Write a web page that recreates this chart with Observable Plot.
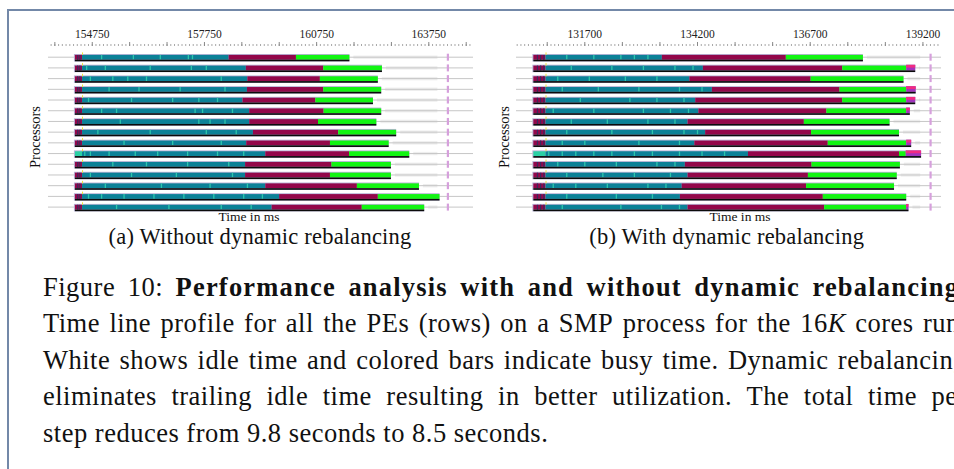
<!DOCTYPE html>
<html><head><meta charset="utf-8">
<script src="https://cdn.jsdelivr.net/npm/d3@7"></script>
<script src="https://cdn.jsdelivr.net/npm/@observablehq/plot@0.6"></script>
<style>
html,body{margin:0;padding:0;background:#fff;}
body{width:954px;height:469px;overflow:hidden;position:relative;font-family:'Liberation Serif','Times New Roman',serif;color:#111;}
#border{position:absolute;left:7px;top:9px;width:1000px;height:500px;border-left:2px solid #7388a8;border-top:2px solid #7388a8;}
.panel{position:absolute;top:0;}
.lbl{position:absolute;white-space:nowrap;line-height:1;}
.cap{position:absolute;left:43px;line-height:1;font-size:26.5px;letter-spacing:0.5px;display:flex;justify-content:space-between;column-gap:4px;white-space:nowrap;}
.cap b{font-weight:bold;letter-spacing:1.2px;}
</style></head><body>
<div id="border"></div>
<div id="pa" class="panel" style="left:0px"></div>
<div id="pb" class="panel" style="left:480px"></div>
<div id="labels"></div>
<div id="caption"></div>
<script>
// ---------- Panel (a): without dynamic rebalancing (times in ms) ----------
const rowsA = [1,2,3,4,5,6,7,8,9,10,11,12,13,14,15];
const startA = 154300;
const prefixEndA = 154490;
const markerA = 164260;
const tealEndA   = [158410,158870,158910,158900,158780,158960,158960,159060,158880,159390,158850,158850,159390,159760,159560];
const maroonEndA = [160210,160940,160850,160940,160730,160950,160800,161340,161120,161630,161160,161120,161840,162400,161970];
const greenEndA  = [161640,162510,162400,162490,162270,162490,162360,162890,162690,163240,162750,162750,163500,164050,163640];
const prefixKindA = ["m","m","m","m","m","m","m","m","m","c","m","m","m","m","m"];
const prefixDarkA = [154360,154420];
const stripesA = [
  [155000,155850,156570,157320,157430],
  [154600,155100,156300,157400,157800],
  [154700,155300,155700,156200,158200],
  [155200,156000,157100,158300],
  [154650,155800,156900,157600,158100],
  [155000,155400,157500,157700,158500],
  [155500,157600,157900,158300],
  [154900,156300,157800,158600],
  [155600,156900,158200],
  [154550,154700,155200,155900,156500,157300,158100,158800],
  [155300,156200,157300,158400],
  [154700,155800,157000,158500],
  [155100,156600,157900,158900],
  [154650,155000,155600,156400,157200,158000,158800,159300],
  [155400,156800,158200,159000]
];
const tickLabelsA = [154750,157750,160750,163750];
const domainA = [153580,164945];

// ---------- Panel (b): with dynamic rebalancing (times in ms) ----------
const rowsB = [1,2,3,4,5,6,7,8,9,10,11,12,13,14,15];
const startB = 130570;
const prefixEndB = 130840;
const markerB = 139370;
const tealEndB   = [133420,134330,134030,134530,134160,134230,133990,134380,134140,135330,133930,133990,133860,133820,133990];
const maroonEndB = [136170,137420,136720,137360,137420,137070,136570,136730,137100,138680,136740,136660,136620,136990,137020];
const greenEndB  = [137880,138840,138780,138840,138840,138840,138470,138680,138840,138830,138700,138630,138570,138840,138840];
const tailEndB   = [null,139040,null,139050,139040,138920,null,null,138950,139170,null,null,null,null,138890];
const prefixKindB = ["m","m","m","m","m","m","m","m","m","c","m","m","m","m","m"];
const prefixDarkB = [130650,130720,130790];
const stripesB = [
  [131300,131900,132500,132800,133100],
  [131400,132300,133000,133700,134100],
  [131100,131800,132600,133300],
  [131200,132000,132900,133800,134300],
  [131600,132700,133300,133900],
  [131000,131900,133000,133600,134000],
  [131400,132200,133100,133700],
  [131300,132300,133200,133900,134200],
  [131200,131700,132900,133800],
  [130900,131200,131500,131900,132300,132800,133200,133800,134300,134800],
  [131100,131700,132400,133300,133700],
  [131300,132100,132800,133600],
  [131000,131500,132200,133100,133500],
  [131300,132400,133200],
  [131200,132500,133400,133800]
];
const tickLabelsB = [131700,134200,136700,139200];
const domainB = [130185,139612];

const TEAL = "#0b8197", MAROON = "#93074a", GREEN = "#12f512", CYAN = "#2bd0a4";
const serif = "'Liberation Serif','Times New Roman',serif";

function timeline(o) {
  const px = 1 / 10.71; // one pixel in row units
  const top = -1.8 * px, bot = 3.0 * px;
  const data = o.rows.map((r, i) => ({
    row: r, start: o.start, prefixEnd: o.prefixEnd,
    teal: o.tealEnd[i], maroon: o.maroonEnd[i], green: o.greenEnd[i],
    tail: o.tailEnd ? o.tailEnd[i] : null,
    end: (o.tailEnd && o.tailEnd[i]) ? o.tailEnd[i] : o.greenEnd[i],
    pcol: o.prefixKind[i] === "c" ? CYAN : MAROON
  }));
  const tails = data.filter(d => d.tail);
  const stripeData = data.flatMap((d, i) => o.stripes[i].map(t => ({row: d.row, t})));
  const darkData = data.filter(d => d.pcol === MAROON).flatMap(d => o.prefixDark.map(t => ({row: d.row, t})));
  const step = o.labels[1] - o.labels[0];
  const ticksOf = s => d3.range(Math.ceil((o.domain[0] - o.labels[0]) / s - 1e-9), Math.floor((o.domain[1] - o.labels[0]) / s + 1e-9) + 1).map(k => o.labels[0] + k * s);
  const svg = Plot.plot({
    width: o.width, height: 225,
    marginLeft: o.ml, marginRight: o.mr, marginTop: 45, marginBottom: 12,
    x: {domain: o.domain},
    y: {domain: [1, 15], range: [56.7, 206.6], axis: null},
    color: {type: "identity"},
    style: {background: "transparent", overflow: "visible", fontFamily: serif, fontSize: "11.5px", color: "#222"},
    marks: [
      Plot.ruleY(o.rows, {y: d => d, stroke: "#c6c6c6", strokeWidth: 1}),
      Plot.rect(data, {x1: "end", x2: () => o.marker, y1: d => d.row - 1.2 * px, y2: d => d.row + 2.2 * px, fill: "#c8c8c8", fillOpacity: 0.3, insetLeft: 4, insetRight: 10, ariaLabel: "idle"}),
      Plot.ruleX(data, {x: () => o.marker, y1: d => d.row - 3 * px, y2: d => d.row + 4 * px, stroke: "#d6a0dc", strokeWidth: 2.2}),
      Plot.rect(data, {x1: "start", x2: "end", y1: d => d.row - 2.7 * px, y2: d => d.row + 4.8 * px, fill: "#b9b4d6", insetLeft: -1}),
      Plot.rect(data, {x1: "start", x2: "prefixEnd", y1: d => d.row + top, y2: d => d.row + bot, fill: "pcol"}),
      Plot.ruleX(darkData, {x: "t", y1: d => d.row + top, y2: d => d.row + bot, stroke: "#3a2a60", strokeWidth: 1.2}),
      Plot.rect(data, {x1: "prefixEnd", x2: "teal", y1: d => d.row + top, y2: d => d.row + bot, fill: TEAL}),
      Plot.ruleX(stripeData, {x: "t", y1: d => d.row + top, y2: d => d.row + bot, stroke: "#34d2ae", strokeWidth: 1.3, strokeOpacity: 0.85}),
      Plot.rect(data, {x1: "teal", x2: "maroon", y1: d => d.row + top, y2: d => d.row + bot, fill: MAROON}),
      Plot.rect(data, {x1: "maroon", x2: "green", y1: d => d.row + top, y2: d => d.row + bot, fill: GREEN}),
      Plot.rect(tails, {x1: "green", x2: "tail", y1: d => d.row - 2.6 * px, y2: d => d.row + bot, fill: "#a233bd"}),
      Plot.rect(tails, {x1: "green", x2: "tail", y1: d => d.row - 2.6 * px, y2: d => d.row + 0.2 * px, fill: "#ff2a78", fillOpacity: 0.85}),
      Plot.rect(data, {x1: "start", x2: "end", y1: d => d.row + bot, y2: d => d.row + 4.6 * px, fill: "#0b0b0b"}),
      Plot.ruleX(data, {x: "prefixEnd", y1: d => d.row - 4.3 * px, y2: d => d.row + top, stroke: "#efe43a", strokeWidth: 1}),
      Plot.axisX({ticks: ticksOf(step / 30), anchor: "top", tickSize: 2, tickFormat: () => "", stroke: "#a8a8a8", label: null}),
      Plot.axisX({ticks: ticksOf(step / 3), anchor: "top", tickSize: 4, tickFormat: () => "", stroke: "#888", label: null}),
      Plot.axisX({ticks: o.labels, anchor: "top", tickSize: 0, tickPadding: 8, tickFormat: d => String(d), label: null, fill: "#222"})
    ]
  });
  const s = d3.select(svg);
  s.insert("defs", ":first-child").html(`<filter id="blur${o.id}" x="-20%" y="-400%" width="140%" height="900%"><feGaussianBlur stdDeviation="4 1.3"/></filter>`);
  s.selectAll('g[aria-label="idle"]').attr("filter", `url(#blur${o.id})`);
  return svg;
}

document.getElementById("pa").append(timeline({
  id: "A", rows: rowsA, start: startA, prefixEnd: prefixEndA, marker: markerA,
  tealEnd: tealEndA, maroonEnd: maroonEndA, greenEnd: greenEndA, tailEnd: null,
  prefixKind: prefixKindA, prefixDark: prefixDarkA, stripes: stripesA,
  labels: tickLabelsA, domain: domainA, width: 480, ml: 48, mr: 7
}));
document.getElementById("pb").append(timeline({
  id: "B", rows: rowsB, start: startB, prefixEnd: prefixEndB, marker: markerB,
  tealEnd: tealEndB, maroonEnd: maroonEndB, greenEnd: greenEndB, tailEnd: tailEndB,
  prefixKind: prefixKindB, prefixDark: prefixDarkB, stripes: stripesB,
  labels: tickLabelsB, domain: domainB, width: 474, ml: 36, mr: 13
}));

// ---------- Text labels ----------
const axisTitles = [
  {text: "Time in ms", x: 249, base: 221.5, size: 13.5},
  {text: "Time in ms", x: 740, base: 221.5, size: 13.5}
];
const yTitles = [
  {text: "Processors", x: 35, y: 136.5, size: 14.5},
  {text: "Processors", x: 504, y: 136.5, size: 14.5}
];
const subCaptions = [
  {text: "(a) Without dynamic rebalancing", x: 260, base: 245, size: 22.5},
  {text: "(b) With dynamic rebalancing", x: 726.7, base: 245, size: 22.5}
];
const L = document.getElementById("labels");
function place(t, extra) {
  const d = document.createElement("div");
  d.className = "lbl";
  d.textContent = t.text;
  d.style.fontSize = t.size + "px";
  d.style.left = t.x + "px";
  if (extra === "rot") {
    d.style.top = t.y + "px";
    d.style.transform = "translate(-50%,-50%) rotate(-90deg)";
  } else {
    d.style.top = (t.base - 0.8375 * t.size) + "px";
    d.style.transform = "translateX(-50%)";
  }
  if (extra === "sub") d.style.letterSpacing = "0.2px";
  L.append(d);
}
axisTitles.forEach(t => place(t));
yTitles.forEach(t => place(t, "rot"));
subCaptions.forEach(t => place(t, "sub"));

// ---------- Figure caption (justified lines) ----------
const captionLines = [
  {base: 296, justify: true, html: 'Figure|10:|<b>Performance</b>|<b>analysis</b>|<b>with</b>|<b>and</b>|<b>without</b>|<b>dynamic</b>|<b>rebalancing.</b>'},
  {base: 332.5, justify: true, html: 'Time|line|profile|for|all|the|PEs|(rows)|on|a|SMP|process|for|the|16<i>K</i>|cores|run.'},
  {base: 369, justify: true, html: 'White|shows|idle|time|and|colored|bars|indicate|busy|time.|Dynamic|rebalancing'},
  {base: 405.5, justify: true, html: 'eliminates|trailing|idle|time|resulting|in|better|utilization.|The|total|time|per'},
  {base: 442, justify: false, html: 'step reduces from 9.8 seconds to 8.5 seconds.'}
];
const C = document.getElementById("caption");
captionLines.forEach(l => {
  const d = document.createElement("div");
  d.className = "cap";
  d.style.top = (l.base - 0.8375 * 26.5) + "px";
  if (l.justify) {
    d.style.width = "924px";
    d.innerHTML = l.html.split("|").map(w => `<span>${w}</span>`).join("");
  } else {
    d.style.display = "block";
    d.innerHTML = l.html;
  }
  C.append(d);
});
</script>
</body></html>
